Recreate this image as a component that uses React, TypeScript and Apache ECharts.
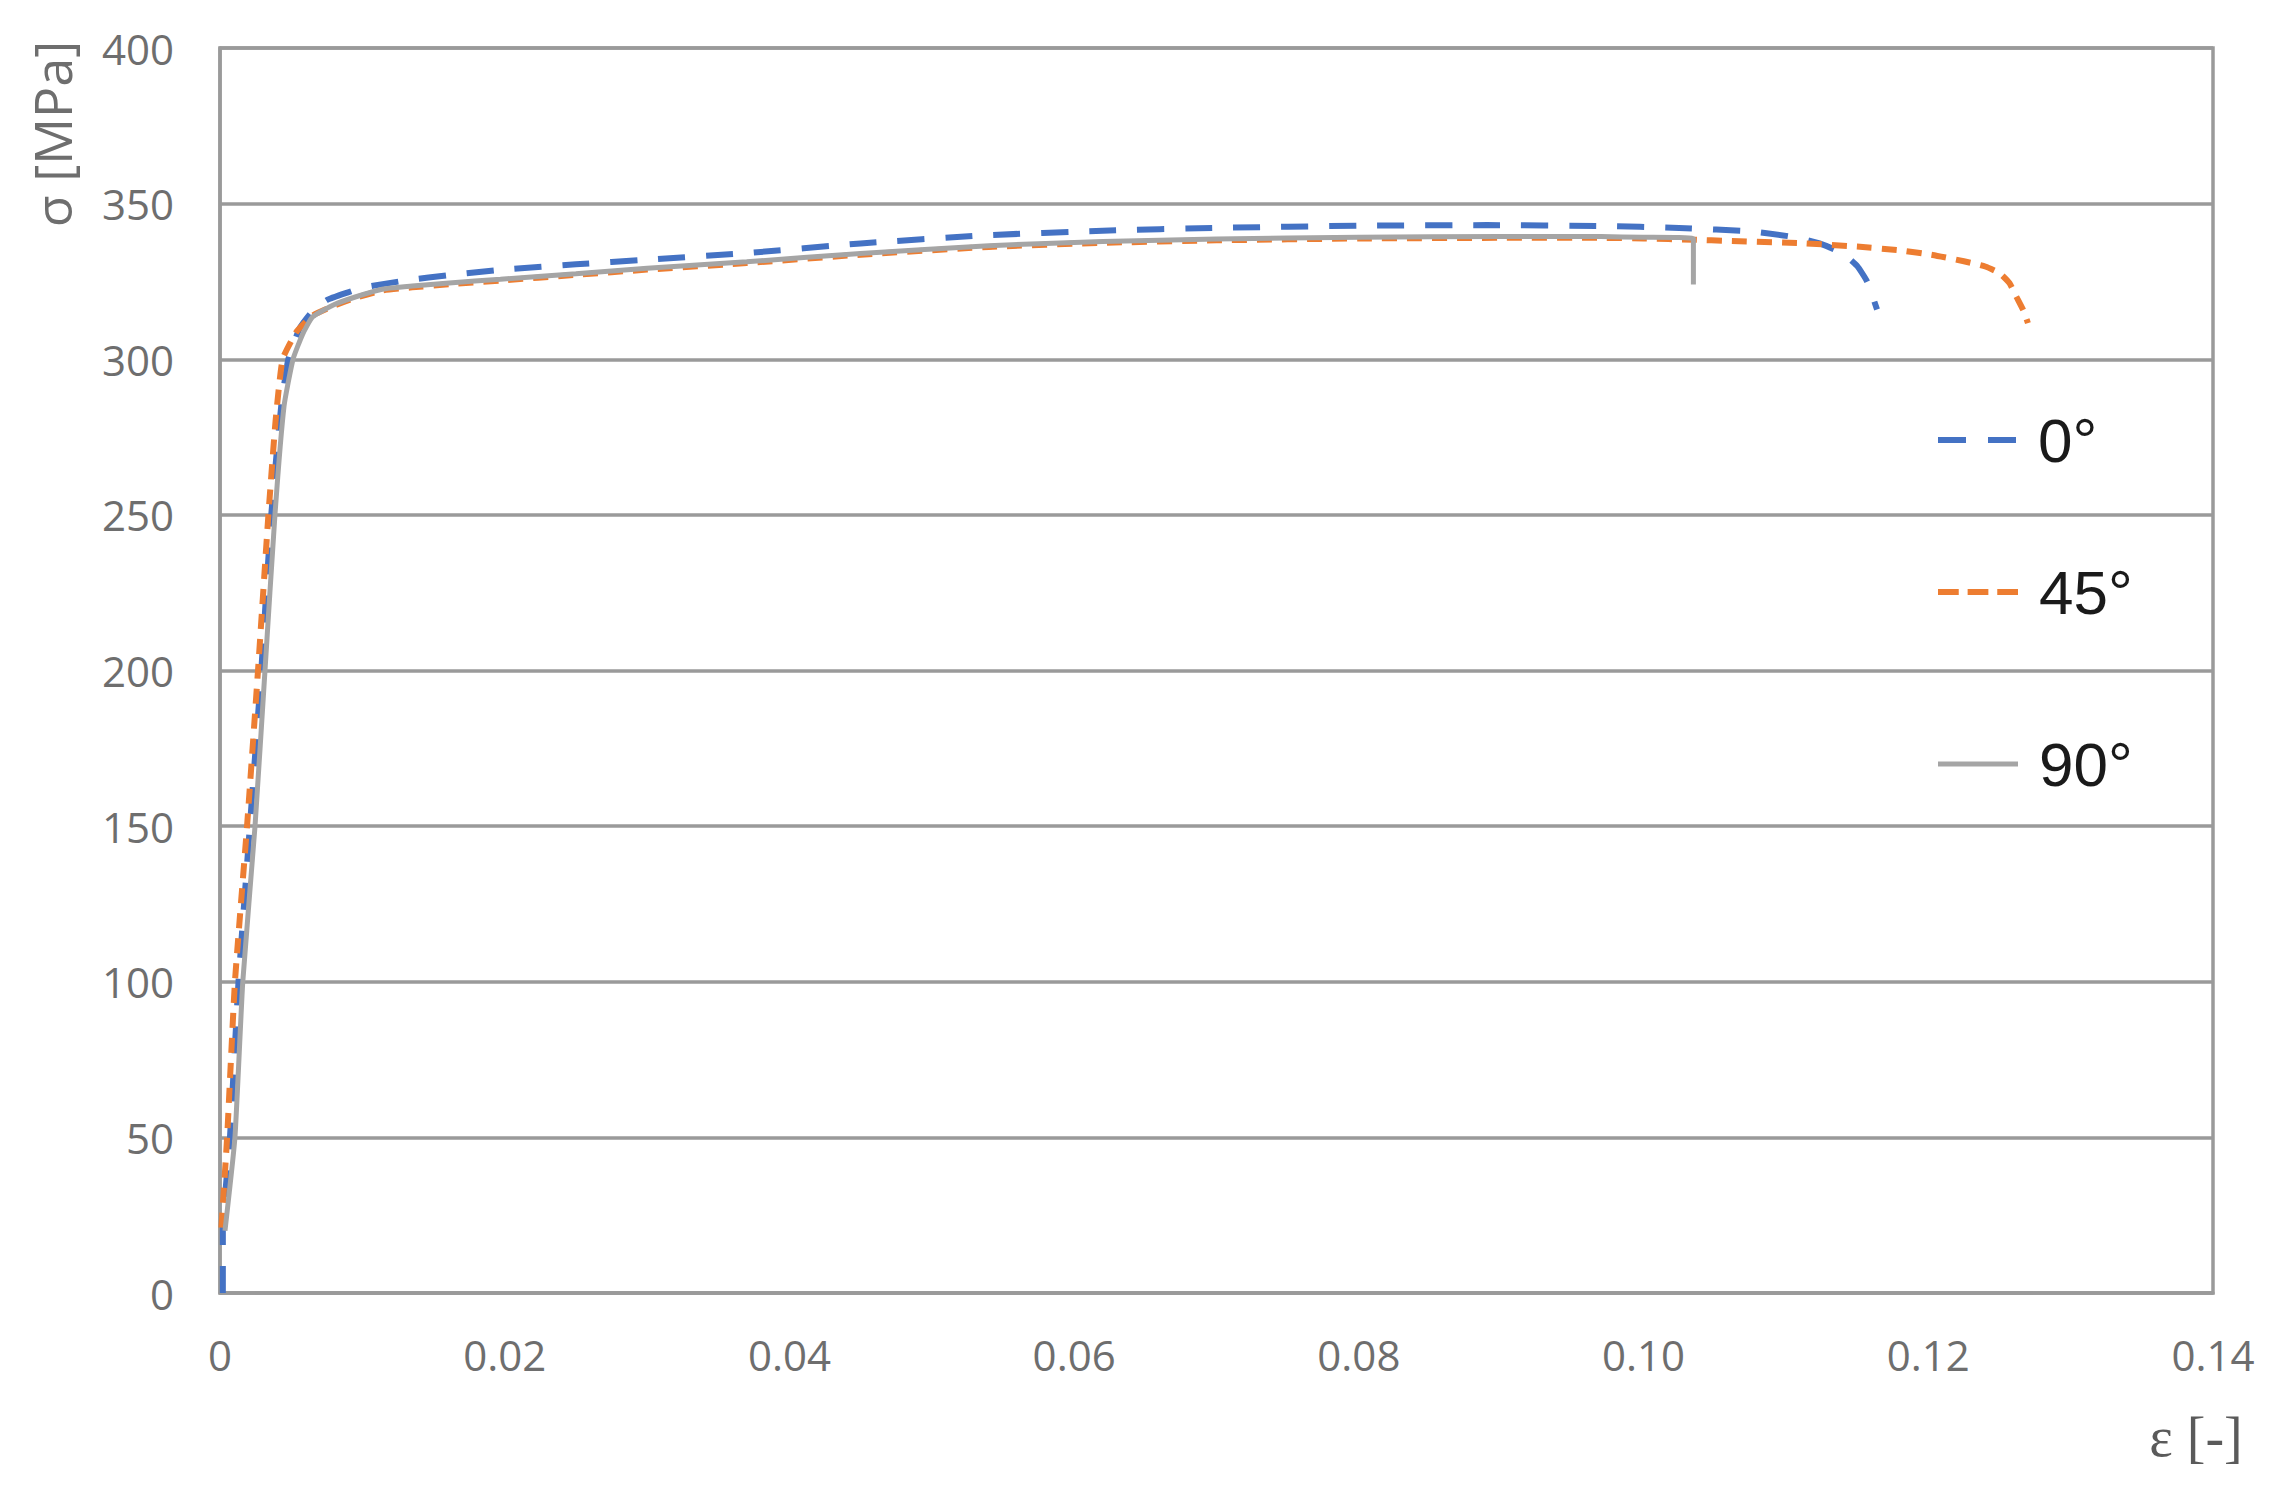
import React, { useEffect, useRef } from "react";
import * as echarts from "echarts";

// ---- Data (strain ε [-], stress σ [MPa]) ----
const seriesNames = ["0°", "45°", "90°"];

const eps0 = [0.0002, 0.0002, 0.0007, 0.0013, 0.0021, 0.0029, 0.0036, 0.0043, 0.0048, 0.0056, 0.0065, 0.0075, 0.009, 0.01, 0.0133, 0.016, 0.0197, 0.025, 0.03, 0.037, 0.045, 0.0536, 0.062, 0.07, 0.08, 0.089, 0.097, 0.1025, 0.1077, 0.1105, 0.1125, 0.114, 0.115, 0.1157, 0.1164];
const sig0 = [0, 20, 50, 100, 150, 200, 250, 285, 300, 310, 315.5, 319, 321.5, 323, 325.5, 327, 328.7, 330.5, 332, 334.1, 337.2, 339.8, 341.3, 342.2, 342.9, 343.1, 342.8, 342.2, 341, 339.3, 337, 334, 330, 325, 316];

const eps45 = [0.0001, 0.0005, 0.00105, 0.0019, 0.00267, 0.0034, 0.0039, 0.0044, 0.0054, 0.0065, 0.008, 0.0095, 0.0114, 0.0135, 0.0161, 0.0197, 0.025, 0.03, 0.037, 0.045, 0.054, 0.062, 0.07, 0.08, 0.09, 0.097, 0.1, 0.1035, 0.106, 0.111, 0.115, 0.118, 0.1203, 0.1225, 0.124, 0.125, 0.1257, 0.1262, 0.1267, 0.127];
const sig45 = [21, 50, 100, 150, 200, 250, 280, 300, 309, 314, 317.2, 319.7, 322.1, 323.1, 324.1, 325.3, 327.1, 328.8, 330.9, 333.6, 336.1, 337.4, 338.2, 338.8, 339.0, 339.0, 338.8, 338.4, 338, 337.3, 336.2, 335, 333.5, 331.5, 329.8, 327.7, 324.5, 320, 315.5, 311.6];

const eps90 = [0.00035, 0.00105, 0.0016, 0.00246, 0.00316, 0.00386, 0.0045, 0.00513, 0.0058, 0.0065, 0.008, 0.0095, 0.0114, 0.0135, 0.0161, 0.0197, 0.025, 0.03, 0.037, 0.045, 0.054, 0.062, 0.07, 0.08, 0.09, 0.097, 0.1, 0.1035, 0.1035];
const sig90 = [20, 50, 100, 150, 200, 250, 285, 300, 308, 313.6, 317.5, 320, 322.5, 323.5, 324.5, 325.7, 327.5, 329.2, 331.3, 334, 336.5, 337.8, 338.6, 339.2, 339.4, 339.4, 339.2, 338.8, 324];

const xTicks = [0, 0.02, 0.04, 0.06, 0.08, 0.1, 0.12, 0.14];
const xTickLabels = ["0", "0.02", "0.04", "0.06", "0.08", "0.10", "0.12", "0.14"];
const yMin = 0;
const yMax = 400;
const yStep = 50;

const zip = (xs: number[], ys: number[]) => xs.map((x, i) => [x, ys[i]]);

export default function App() {
  const ref = useRef<HTMLDivElement>(null);
  useEffect(() => {
    if (!ref.current) return;
    const chart = echarts.init(ref.current, undefined, { renderer: "svg" });
    const tickFont = "'Open Sans', 'DejaVu Sans', sans-serif";
    const labelColor = "#6e6e6e";
    const gridColor = "#9a9a9a";
    const legendText = {
      fontFamily: "'Liberation Sans', Arial, sans-serif",
      fontSize: 62,
      color: "#1a1a1a",
      lineHeight: 66,
      padding: [0, 0, 0, 16],
    };
    const legendBase = {
      left: 1938,
      orient: "vertical",
      padding: 0,
      itemWidth: 80,
      itemHeight: 6,
      textStyle: legendText,
    };
    chart.setOption({
      animation: false,
      backgroundColor: "#ffffff",
      grid: {
        left: 220,
        right: 70,
        top: 48,
        bottom: 195,
        show: true,
        borderColor: gridColor,
        borderWidth: 3.5,
        backgroundColor: "transparent",
      },
      xAxis: {
        type: "value",
        min: 0,
        max: 0.14,
        interval: 0.02,
        axisLine: { show: true, lineStyle: { color: gridColor, width: 3.5 } },
        axisTick: { show: false },
        splitLine: { show: false },
        axisLabel: {
          margin: 40,
          fontFamily: tickFont,
          fontSize: 42,
          color: labelColor,
          formatter: (v: number) => {
            const i = xTicks.findIndex((t) => Math.abs(t - v) < 1e-9);
            return i >= 0 ? xTickLabels[i] : "";
          },
        },
      },
      yAxis: {
        type: "value",
        min: yMin,
        max: yMax,
        interval: yStep,
        axisLine: { show: true, lineStyle: { color: gridColor, width: 3.5 } },
        axisTick: { show: false },
        splitLine: { show: true, lineStyle: { color: gridColor, width: 3.5 } },
        axisLabel: {
          margin: 46,
          fontFamily: tickFont,
          fontSize: 42,
          color: labelColor,
        },
      },
      legend: [
        {
          ...legendBase,
          top: 407,
          data: [{ name: seriesNames[0], icon: "path://M0,0h28v6h-28zM50,0h28v6h-28z" }],
        },
        {
          ...legendBase,
          top: 559,
          data: [{ name: seriesNames[1], icon: "path://M0,0h21v6h-21zM30,0h21v6h-21zM60,0h21v6h-21z" }],
        },
        {
          ...legendBase,
          top: 731,
          data: [{ name: seriesNames[2], icon: "path://M0,0h80v5h-80z" }],
        },
      ],
      graphic: [
        {
          type: "text",
          x: 51,
          y: 134,
          rotation: Math.PI / 2,
          style: {
            text: "σ [MPa]",
            fontFamily: tickFont,
            fontSize: 52,
            fill: labelColor,
            textAlign: "center",
            textVerticalAlign: "middle",
          },
        },
        {
          type: "text",
          x: 2196,
          y: 1437,
          style: {
            text: "ε [-]",
            fontFamily: "'Liberation Serif', 'DejaVu Serif', serif",
            fontSize: 56,
            fill: "#5a5a5a",
            textAlign: "center",
            textVerticalAlign: "middle",
          },
        },
      ],
      series: [
        {
          name: seriesNames[0],
          type: "line",
          data: zip(eps0, sig0),
          symbol: "none",
          smooth: 0.15,
          lineStyle: { color: "#4472C4", width: 6, type: [27, 21] },
          itemStyle: { color: "#4472C4" },
          z: 2,
        },
        {
          name: seriesNames[1],
          type: "line",
          data: zip(eps45, sig45),
          symbol: "none",
          smooth: 0.15,
          lineStyle: { color: "#ED7D31", width: 6, type: [15, 10] },
          itemStyle: { color: "#ED7D31" },
          z: 3,
        },
        {
          name: seriesNames[2],
          type: "line",
          data: zip(eps90, sig90),
          symbol: "none",
          smooth: 0.15,
          lineStyle: { color: "#A5A5A5", width: 5 },
          itemStyle: { color: "#A5A5A5" },
          z: 4,
        },
      ],
    });
    return () => chart.dispose();
  }, []);
  return (
    <div
      ref={ref}
      style={{ position: "fixed", left: 0, top: 0, width: 2283, height: 1488 }}
    />
  );
}
